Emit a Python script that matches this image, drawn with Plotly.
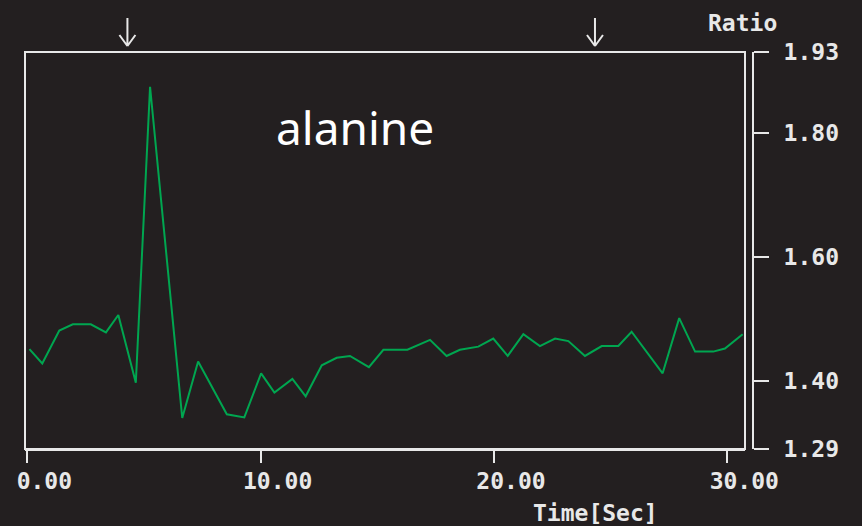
import plotly.graph_objects as go

# ---- data ----
time_s = [0.09, 0.64, 1.37, 1.95, 2.72, 3.37, 3.90, 4.65, 5.26, 6.64, 7.32, 8.55,
          9.30, 10.02, 10.59, 11.36, 11.93, 12.62, 13.26, 13.83, 14.64, 15.26,
          16.29, 17.26, 17.97, 18.54, 19.33, 19.97, 20.59, 21.26, 21.97, 22.62,
          23.19, 23.90, 24.62, 25.33, 25.90, 27.23, 27.94, 28.62, 29.40, 29.90, 30.66]
ratio = [1.451, 1.428, 1.481, 1.491, 1.491, 1.478, 1.506, 1.397, 1.874, 1.340, 1.431,
         1.346, 1.341, 1.412, 1.381, 1.403, 1.375, 1.425, 1.437, 1.440, 1.422, 1.450,
         1.450, 1.466, 1.440, 1.450, 1.455, 1.468, 1.440, 1.475, 1.456, 1.468, 1.464,
         1.440, 1.456, 1.456, 1.479, 1.412, 1.501, 1.447, 1.447, 1.452, 1.475]
marker_times = [4.29, 24.33]          # stimulus arrows
x_ticks = [0, 10, 20, 30]
x_tick_text = ["0.00", "10.00", "20.00", "30.00"]
y_ticks = [1.29, 1.40, 1.60, 1.80, 1.93]
y_tick_text = ["1.29", "1.40", "1.60", "1.80", "1.93"]
title_text = "alanine"
x_title = "Time[Sec]"
y_title = "Ratio"

BG = "#231f20"
FG = "#e8e8e8"
GREEN = "#00a650"
MONO = dict(family="DejaVu Sans Mono", size=23, color=FG, weight="bold")

W, H = 862, 526
ML, MR, MT, MB = 25, 109, 52, 77
PW, PH = W - ML - MR, H - MT - MB


def px_x(p):
    return (p - ML) / PW


def px_y(p):
    return (H - MB - p) / PH


fig = go.Figure()
fig.add_trace(go.Scatter(x=time_s, y=ratio, mode="lines",
                         line=dict(color=GREEN, width=2), showlegend=False,
                         hoverinfo="skip"))

fig.update_layout(
    width=W, height=H,
    margin=dict(l=ML, r=MR, t=MT, b=MB, pad=0),
    paper_bgcolor=BG, plot_bgcolor=BG,
    showlegend=False,
    xaxis=dict(domain=[0, (745 - ML) / PW], range=[-0.1, 30.76],
               tickvals=x_ticks, ticktext=x_tick_text,
               showgrid=False, zeroline=False,
               showline=True, linecolor=FG, linewidth=2,
               ticks="outside", ticklen=12, tickwidth=2, tickcolor=FG,
               tickfont=MONO, ticklabelshift=17, ticklabelstandoff=-2),
    yaxis=dict(range=[1.29, 1.93], anchor="free", position=1, side="right",
               tickvals=y_ticks, ticktext=y_tick_text,
               showgrid=False, zeroline=False,
               showline=True, linecolor=FG, linewidth=2,
               ticks="outside", ticklen=15, tickwidth=2, tickcolor=FG,
               tickfont=MONO, ticklabelstandoff=10),
)

# plot frame
fig.add_shape(type="rect", xref="x domain", yref="y domain", x0=0, x1=1, y0=0, y1=1,
              line=dict(color=FG, width=2), layer="above")

# stimulus arrows (shaft + open V head, drawn in pixel units around the time point)
for t in marker_times:
    fig.add_shape(type="path", xref="x", xsizemode="pixel", xanchor=t,
                  yref="paper", ysizemode="pixel", yanchor=px_y(46),
                  path="M0,0 L0,28 M0,0 L-8,11 M0,0 L8,11",
                  line=dict(color=FG, width=2))

fig.add_annotation(x=px_x(355), y=px_y(127), xref="paper", yref="paper",
                   text=title_text, showarrow=False, xanchor="center", yanchor="middle",
                   font=dict(family="Noto Sans", size=46, color="#ffffff"))
fig.add_annotation(x=px_x(742), y=px_y(23), xref="paper", yref="paper",
                   text=y_title, showarrow=False, xanchor="center", yanchor="middle",
                   font=MONO)
fig.add_annotation(x=px_x(595), y=px_y(513), xref="paper", yref="paper",
                   text=x_title, showarrow=False, xanchor="center", yanchor="middle",
                   font=MONO)

fig.write_html("out.html", config={"displayModeBar": False},
               post_script="document.body.style.margin='0';document.body.style.background='#231f20';")
